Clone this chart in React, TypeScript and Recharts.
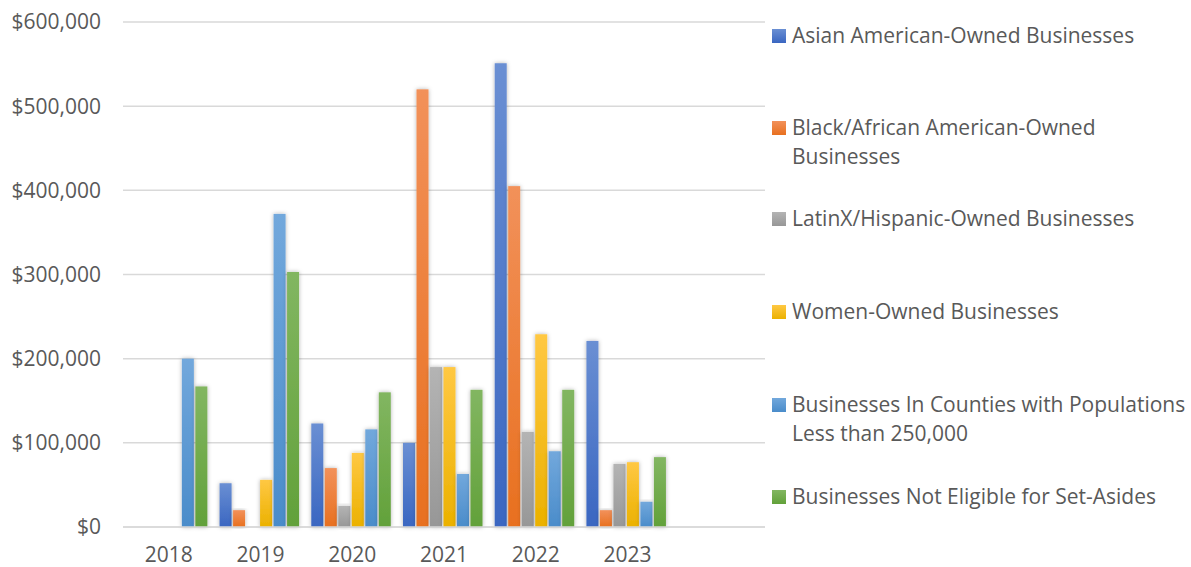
import React from "react";
import { BarChart, Bar, XAxis, YAxis, CartesianGrid } from "recharts";

const years = ["2018", "2019", "2020", "2021", "2022", "2023", ""];
const asian = [0, 52000, 123000, 100000, 551000, 221000, null];
const black = [0, 20000, 70000, 520000, 405000, 20000, null];
const latinx = [0, 0, 25000, 190000, 113000, 75000, null];
const women = [0, 56000, 88000, 190000, 229000, 77000, null];
const counties = [200000, 372000, 116000, 63000, 90000, 30000, null];
const notEligible = [167000, 303000, 160000, 163000, 163000, 83000, null];
const yTicks = [0, 100000, 200000, 300000, 400000, 500000, 600000];

const series = [
  { key: "asian", name: "Asian American-Owned Businesses", values: asian, top: "#6a8fd3", bottom: "#3a66c1" },
  { key: "black", name: "Black/African American-Owned Businesses", values: black, top: "#f2915a", bottom: "#e8701f" },
  { key: "latinx", name: "LatinX/Hispanic-Owned Businesses", values: latinx, top: "#b4b4b4", bottom: "#979797" },
  { key: "women", name: "Women-Owned Businesses", values: women, top: "#ffc843", bottom: "#ebb100" },
  { key: "counties", name: "Businesses In Counties with Populations Less than 250,000", values: counties, top: "#72a8dc", bottom: "#4a8cca" },
  { key: "notEligible", name: "Businesses Not Eligible for Set-Asides", values: notEligible, top: "#82b661", bottom: "#62a13a" },
];

const data = years.map((year, i) => {
  const row: any = { year };
  series.forEach((s) => (row[s.key] = s.values[i]));
  return row;
});

const font = "'Open Sans', sans-serif";
const textColor = "#595959";
const fmt = (v: number) => "$" + v.toLocaleString("en-US");

// vertical offsets of each legend entry (px from top of chart)
const legendTops = [21, 113, 204, 297, 390, 482];

const LegendBox = () => (
  <div style={{ position: "absolute", left: 772, top: 0, width: 419, height: 567, fontFamily: font, color: textColor }}>
    {series.map((s, i) => (
      <div key={s.key} style={{ position: "absolute", top: legendTops[i], left: 0, width: 419, display: "flex" }}>
        <div
          style={{
            width: 14,
            height: 14,
            marginTop: 8,
            marginRight: 6,
            flexShrink: 0,
            background: `linear-gradient(${s.top}, ${s.bottom})`,
          }}
        />
        <div style={{ fontSize: 21, lineHeight: "29px" }}>{s.name}</div>
      </div>
    ))}
  </div>
);

const ShadowBar = (props: any) => {
  const { x, y, width, height, fill } = props;
  if (!height || height <= 0) return null;
  return <rect x={x} y={y} width={width} height={height} fill={fill} filter="url(#barShadow)" />;
};

export default function App() {
  return (
    <div style={{ position: "absolute", left: 0, top: 0, width: 1191, height: 567, background: "#fff" }}>
      <BarChart
        width={1191}
        height={567}
        data={data}
        margin={{ top: 22, right: 426, bottom: 10, left: 0 }}
        barCategoryGap="5.3%"
        barGap={1.5}
      >
        <defs>
          {series.map((s) => (
            <linearGradient key={s.key} id={`g-${s.key}`} x1="0" y1="0" x2="0" y2="1">
              <stop offset="0%" stopColor={s.top} />
              <stop offset="100%" stopColor={s.bottom} />
            </linearGradient>
          ))}
          <filter id="barShadow" x="-50%" y="-10%" width="200%" height="120%">
            <feDropShadow dx="0" dy="0" stdDeviation="2" floodColor="#000" floodOpacity="0.3" />
          </filter>
        </defs>
        <CartesianGrid vertical={false} stroke="#d9d9d9" strokeWidth={1.5} />
        <XAxis
          dataKey="year"
          axisLine={{ stroke: "#d9d9d9", strokeWidth: 1.5 }}
          tickLine={false}
          tick={{ fill: textColor, fontSize: 21, fontFamily: font }}
          tickMargin={14}
          interval={0}
        />
        <YAxis
          width={123}
          domain={[0, 600000]}
          ticks={yTicks}
          axisLine={false}
          tickLine={false}
          tickSize={0}
          tickMargin={22}
          tickFormatter={fmt}
          tick={{ fill: textColor, fontSize: 21, fontFamily: font }}
        />
        {series.map((s) => (
          <Bar
            key={s.key}
            dataKey={s.key}
            name={s.name}
            fill={`url(#g-${s.key})`}
            shape={ShadowBar}
            isAnimationActive={false}
          />
        ))}
      </BarChart>
      <LegendBox />
    </div>
  );
}
